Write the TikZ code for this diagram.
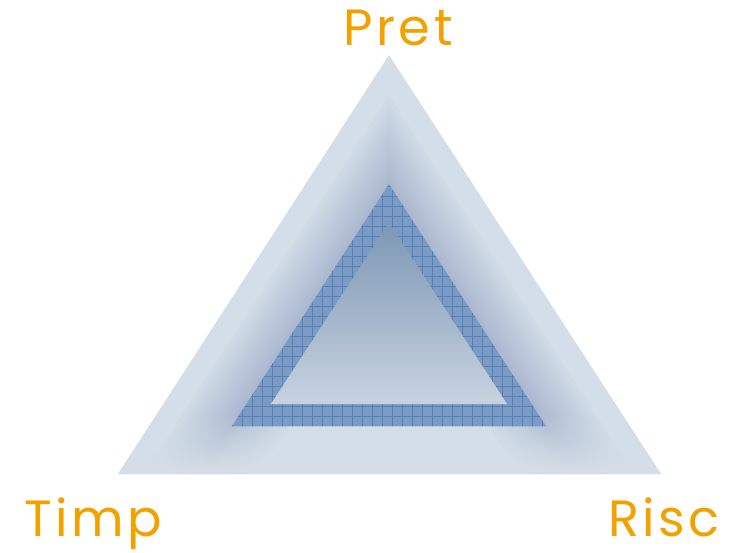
\documentclass[tikz,border=0pt]{standalone}
\usepackage{fontspec}
\newfontfamily\labelfont{Poppins}[LetterSpace=7]
\usetikzlibrary{calc,fadings}
\definecolor{outerblue}{RGB}{212,222,232}
\definecolor{glowblue}{RGB}{92,112,160}
\definecolor{bandblue}{RGB}{122,155,198}
\definecolor{gridblue}{RGB}{90,128,178}
\definecolor{innertop}{RGB}{124,151,180}
\definecolor{innerbottom}{RGB}{200,211,224}
\definecolor{labelorange}{RGB}{241,161,0}
\tikzset{
  corner label/.style={text=labelorange, anchor=base, inner sep=0pt,
    font=\labelfont\fontsize{51}{51}\selectfont}
}

\begin{document}
\begin{tikzpicture}[x=1pt,y=-1pt,line join=miter]
        \useasboundingbox (0,0) rectangle (738,552);

        %corners of the big triangle
        \coordinate (A) at (389,55);
        \coordinate (B) at (118,474);
        \coordinate (C) at (661,474);

        %corners of the band
        \coordinate (A1) at (389,184);
        \coordinate (B1) at (232,426);
        \coordinate (C1) at (546,426);

        %corners of the small triangle
        \coordinate (A2) at (389,223);
        \coordinate (B2) at (271,404);
        \coordinate (C2) at (507,404);

        %big triangle
        \fill[outerblue] (A) -- (B) -- (C) -- cycle;

        %soft shadow along the sides of the band
        \coordinate (B0) at ($(A1)!1.25!(B1)$);
        \coordinate (C0) at ($(A1)!1.25!(C1)$);
        \begin{scope}
            \clip (A) -- (B) -- (C) -- cycle;
            \foreach \w in {8,16,...,96}
                \draw[glowblue, line width=\w, opacity=0.028, miter limit=20] (B0) -- (A1) -- (C0);
            %shadow dies out towards the base
            \fill[outerblue, path fading=north] (100,412) rectangle (680,470);
            \fill[outerblue] (100,470) rectangle (680,480);
        \end{scope}

        %band with grid
        \fill[bandblue, even odd rule] (A1) -- (B1) -- (C1) -- cycle (A2) -- (B2) -- (C2) -- cycle;
        \begin{scope}[even odd rule]
            \clip (A1) -- (B1) -- (C1) -- cycle (A2) -- (B2) -- (C2) -- cycle;
            \foreach \x in {232,242,...,552}
                \draw[gridblue, line width=0.7] (\x,180) -- (\x,430);
            \foreach \y in {186,196,...,430}
                \draw[gridblue, line width=0.7] (225,\y) -- (555,\y);
        \end{scope}

        %small triangle
        \shade[top color=innertop, bottom color=innerbottom] (A2) -- (B2) -- (C2) -- cycle;

        %labels
        \node[corner label] (pret) at (398,45) {Pret};
        \node[corner label] (timp) at (93,536) {Timp};
        \node[corner label] (risc) at (664,536) {Risc};
\end{tikzpicture}
\end{document}
